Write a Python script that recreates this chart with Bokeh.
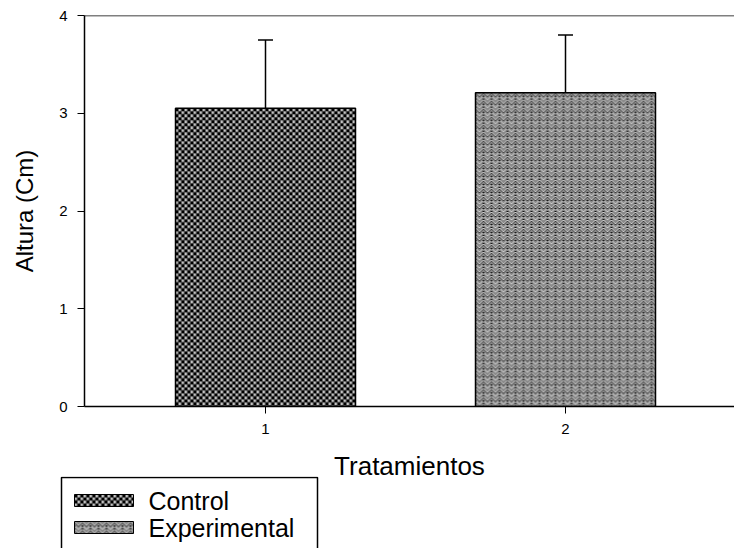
import numpy as np
from bokeh.plotting import figure
from bokeh.layouts import column
from bokeh.models import Range1d, FixedTicker, Whisker, TeeHead, ColumnDataSource, Span
from bokeh.core.properties import value
from bokeh.embed import file_html
from bokeh.resources import INLINE

# --- data -------------------------------------------------------------
treatments = [1, 2]
group_names = ["Control", "Experimental"]
heights = [3.05, 3.21]          # mean height (cm)
errors = [0.70, 0.59]           # upper error (cm)
y_ticks = [0, 1, 2, 3, 4]
x_ticks = [1, 2]

FONT = "Liberation Sans"
BAR_WIDTH = 0.6

# plot geometry (pixels)
FRAME_W, FRAME_H = 650, 391
TOP_B, BOTTOM_B = 15, 80
X0, X1 = 1 - 181 / 300, 1 - 181 / 300 + FRAME_W / 300
Y0, Y1 = 0, 4

# --- fill textures ------------------------------------------------------
def rgba(hexcol):
    h = hexcol.lstrip("#")
    r, g, b = int(h[0:2], 16), int(h[2:4], 16), int(h[4:6], 16)
    return np.uint32(255 << 24 | b << 16 | g << 8 | r)

def tile_from(rows, palette):
    return np.array([[rgba(palette[c]) for c in row] for row in rows], dtype=np.uint32)

checker_tile = tile_from(
    ["KKKGGg",
     "KKKGGg",
     "KKKGGg",
     "GGgKKK",
     "GGgKKK",
     "ggmKKK"],
    {"K": "#000000", "G": "#c4c4c4", "g": "#8a8a8a", "m": "#6a6a6a"})

weave_tile = tile_from(
    ["L......L",
     "DL....LD",
     ".DL..LD.",
     "..DLLD..",
     "K..DD..K",
     ".L....L.",
     "..L..L..",
     "K..LL..K"],
    {"L": "#cfcfcf", "D": "#3e3e3e", "K": "#141414", ".": "#8a8a8a"})

textures = [checker_tile, weave_tile]

def textured(tile, w_px, h_px):
    th, tw = tile.shape
    reps = (h_px // th + 2, w_px // tw + 2)
    img = np.tile(tile, reps)[:h_px, :w_px]
    return img[::-1].copy()          # image rows run bottom-up

# --- main figure --------------------------------------------------------
p = figure(width=734, height=TOP_B + FRAME_H + BOTTOM_B, frame_width=FRAME_W, frame_height=FRAME_H,
           min_border_left=84, min_border_right=0, min_border_top=TOP_B, min_border_bottom=BOTTOM_B,
           x_range=Range1d(X0, X1), y_range=Range1d(Y0, Y1),
           output_backend="svg", toolbar_location=None, tools="")
p.frame_align = False
p.outline_line_color = None
p.xgrid.visible = False
p.ygrid.visible = False

px_x = FRAME_W / (X1 - X0)
px_y = FRAME_H / (Y1 - Y0)

# textured bar faces
for i, t in enumerate(textures):
    w_px = int(round(BAR_WIDTH * px_x))
    h_px = int(round(heights[i] * px_y))
    p.image_rgba(image=[textured(t, w_px, h_px)], x=treatments[i] - BAR_WIDTH / 2, y=0,
                 dw=BAR_WIDTH, dh=heights[i])

# bar outlines
src = ColumnDataSource(dict(x=treatments, top=heights,
                            upper=[h + e for h, e in zip(heights, errors)]))
p.vbar(x="x", top="top", bottom=0, width=BAR_WIDTH, source=src,
       fill_color=None, line_color="black", line_width=1.5)

# upper error bars
p.add_layout(Whisker(source=src, base="x", lower="top", upper="upper",
                     lower_head=None,
                     upper_head=TeeHead(size=15, line_color="black", line_width=1.5),
                     line_color="black", line_width=1.5))

# top frame line
p.add_layout(Span(location=Y1, dimension="width", line_color="black", line_width=1.5))

for ax in (p.xaxis[0], p.yaxis[0]):
    ax.axis_line_color = "black"
    ax.axis_line_width = 1.5
    ax.major_tick_line_color = "black"
    ax.major_tick_out = 7
    ax.major_tick_in = 0
    ax.minor_tick_line_color = None
    ax.major_label_text_font = FONT
    ax.major_label_text_font_size = "15px"
    ax.major_label_text_color = "black"
    ax.axis_label_text_font = FONT
    ax.axis_label_text_font_style = "normal"
    ax.axis_label_text_color = "black"

p.yaxis.ticker = FixedTicker(ticks=y_ticks)
p.xaxis.ticker = FixedTicker(ticks=x_ticks)
p.yaxis.axis_label = "Altura (Cm)"
p.xaxis.axis_label = "Tratamientos"
p.yaxis.axis_label_text_font_size = "24px"
p.xaxis.axis_label_text_font_size = "26px"
p.yaxis.major_label_standoff = 10
p.xaxis.major_label_standoff = 10
p.yaxis.axis_label_standoff = 18
p.xaxis.axis_label_standoff = 14

# --- legend strip (pulled up so that it starts at y = 476) ---------------
LEG_H = 72
PAGE_H = 548
overlap = TOP_B + FRAME_H + BOTTOM_B + LEG_H - PAGE_H
q = figure(width=734, height=LEG_H, frame_width=734, frame_height=LEG_H,
           min_border=0, x_axis_location=None, y_axis_location=None,
           x_range=Range1d(0, 734), y_range=Range1d(0, LEG_H),
           output_backend="svg", toolbar_location=None, tools="")
q.frame_align = False
q.margin = (-overlap, 0, 0, 0)
q.grid.visible = False
q.outline_line_color = None
q.background_fill_alpha = 0
q.border_fill_alpha = 0

# legend frame (open at the bottom edge of the page)
q.quad(left=[61], right=[317], top=[LEG_H - 1], bottom=[-10],
       fill_color="white", line_color="black", line_width=1.5)

sw_left, sw_w, sw_h = 74, 59, 12
sw_bottoms = [LEG_H - 30, LEG_H - 57]
for i, t in enumerate(textures):
    q.image_rgba(image=[textured(t, sw_w, sw_h)], x=sw_left, y=sw_bottoms[i], dw=sw_w, dh=sw_h)
q.rect(x=[sw_left + sw_w / 2] * 2, y=[b + sw_h / 2 for b in sw_bottoms], width=sw_w, height=sw_h,
       fill_color=None, line_color="black", line_width=1)
q.text(x=[148, 148], y=[b + sw_h / 2 for b in sw_bottoms], text=group_names,
       text_font=value(FONT), text_font_size="25px", text_baseline="middle",
       text_color="black")

open("out.html", "w").write(file_html(column(p, q, spacing=0), INLINE))
